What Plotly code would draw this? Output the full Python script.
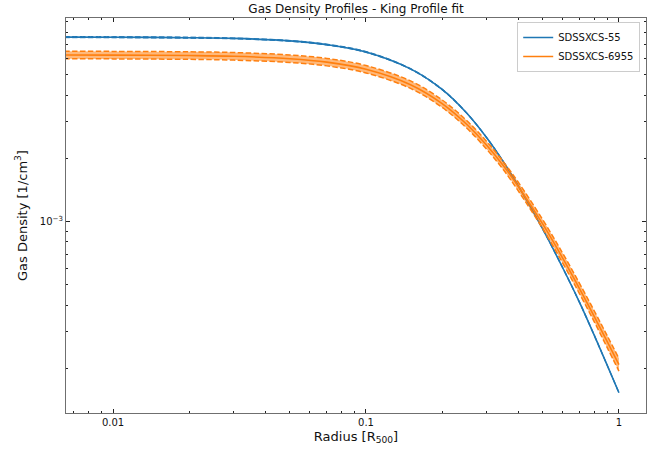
import plotly.graph_objects as go

# ---- data ----
radius = [0.0064, 0.01, 0.02, 0.03, 0.05, 0.07, 0.1, 0.15, 0.2, 0.25, 0.3,
          0.35, 0.4, 0.5, 0.6, 0.7, 0.8, 0.9, 1.0]

blue_name = "SDSSXCS-55"
blue_mid = [7.57e-3, 7.56e-3, 7.52e-3, 7.46e-3, 7.26e-3, 6.97e-3, 6.43e-3, 5.34e-3,
            4.26e-3, 3.29e-3, 2.51e-3, 1.92e-3, 1.48e-3, 9.20e-4, 6.01e-4, 4.10e-4,
            2.86e-4, 2.06e-4, 1.53e-4]
blue_hi = [7.62e-3, 7.61e-3, 7.57e-3, 7.50e-3, 7.30e-3, 7.01e-3, 6.47e-3, 5.37e-3,
           4.29e-3, 3.31e-3, 2.525e-3, 1.93e-3, 1.49e-3, 9.26e-4, 6.05e-4, 4.13e-4,
           2.88e-4, 2.07e-4, 1.54e-4]
blue_lo = [7.52e-3, 7.51e-3, 7.47e-3, 7.42e-3, 7.22e-3, 6.93e-3, 6.39e-3, 5.31e-3,
           4.23e-3, 3.27e-3, 2.495e-3, 1.91e-3, 1.47e-3, 9.14e-4, 5.97e-4, 4.07e-4,
           2.84e-4, 2.05e-4, 1.52e-4]

orange_name = "SDSSXCS-6955"
orange_mid = [6.22e-3, 6.21e-3, 6.18e-3, 6.13e-3, 5.97e-3, 5.75e-3, 5.32e-3, 4.49e-3,
              3.65e-3, 2.91e-3, 2.31e-3, 1.84e-3, 1.47e-3, 9.72e-4, 6.68e-4, 4.77e-4,
              3.52e-4, 2.67e-4, 2.08e-4]
orange_hi = [6.48e-3, 6.47e-3, 6.44e-3, 6.39e-3, 6.22e-3, 5.99e-3, 5.54e-3, 4.68e-3,
             3.80e-3, 3.03e-3, 2.41e-3, 1.92e-3, 1.54e-3, 1.02e-3, 7.05e-4, 5.05e-4,
             3.74e-4, 2.85e-4, 2.23e-4]
orange_lo = [5.97e-3, 5.96e-3, 5.93e-3, 5.88e-3, 5.73e-3, 5.52e-3, 5.11e-3, 4.31e-3,
             3.50e-3, 2.79e-3, 2.21e-3, 1.76e-3, 1.40e-3, 9.25e-4, 6.33e-4, 4.51e-4,
             3.32e-4, 2.50e-4, 1.94e-4]

x_major = [0.01, 0.1, 1]
x_major_text = ["0.01", "0.1", "1"]
x_minor = [0.007, 0.008, 0.009, 0.02, 0.03, 0.04, 0.05, 0.06, 0.07, 0.08, 0.09,
           0.2, 0.3, 0.4, 0.5, 0.6, 0.7, 0.8, 0.9]
y_major = [1e-3]
y_major_text = ["10<sup>−3</sup>"]
y_minor = [2e-4, 3e-4, 4e-4, 5e-4, 6e-4, 7e-4, 8e-4, 9e-4,
           2e-3, 3e-3, 4e-3, 5e-3, 6e-3, 7e-3, 8e-3, 9e-3]

BLUE = "#1f77b4"
ORANGE = "#ff7f0e"

fig = go.Figure()


def add_series(mid, lo, hi, color, fill, dash_w, name, group):
    fig.add_trace(go.Scatter(x=radius, y=lo, mode="lines", line_shape="spline",
                             line=dict(color=color, width=dash_w, dash="5.5px,2.4px"),
                             showlegend=False, hoverinfo="skip", legendgroup=group))
    fig.add_trace(go.Scatter(x=radius, y=hi, mode="lines", line_shape="spline",
                             line=dict(color=color, width=dash_w, dash="5.5px,2.4px"),
                             fill="tonexty", fillcolor=fill,
                             showlegend=False, hoverinfo="skip", legendgroup=group))
    fig.add_trace(go.Scatter(x=radius, y=mid, mode="lines", line_shape="spline",
                             line=dict(color=color, width=1.6), name=name,
                             legendgroup=group))


add_series(blue_mid, blue_lo, blue_hi, BLUE, "rgba(31,119,180,0.35)", 1.0, blue_name, "a")
add_series(orange_mid, orange_lo, orange_hi, ORANGE, "rgba(255,127,14,0.55)", 1.5,
           orange_name, "b")

axis_common = dict(
    showline=True, linecolor="#6f6f6f", linewidth=1.2, mirror="ticks",
    ticks="inside", ticklen=3.5, tickwidth=1, tickcolor="#222",
    showgrid=False, zeroline=False, automargin=False,
    tickfont=dict(family="DejaVu Sans", size=10, color="#111"),
)

fig.update_xaxes(
    type="log", range=[-2.186, 0.107],
    tickmode="array", tickvals=x_major, ticktext=x_major_text,
    minor=dict(tickmode="array", tickvals=x_minor, ticks="inside",
               ticklen=2, tickwidth=0.8, tickcolor="#222"),
    title=dict(text="Radius [R<sub>500</sub>]", standoff=4,
               font=dict(family="DejaVu Sans", size=13, color="#111")),
    **axis_common,
)
fig.update_yaxes(
    type="log", range=[-3.912, -2.030],
    tickmode="array", tickvals=y_major, ticktext=y_major_text,
    minor=dict(tickmode="array", tickvals=y_minor, ticks="inside",
               ticklen=2, tickwidth=0.8, tickcolor="#222"),
    title=dict(text="Gas Density [1/cm<sup>3</sup>]", standoff=9,
               font=dict(family="DejaVu Sans", size=13, color="#111")),
    **axis_common,
)

fig.update_layout(
    width=667, height=451,
    margin=dict(l=66, r=21, t=18, b=38, autoexpand=False),
    paper_bgcolor="white", plot_bgcolor="white",
    title=dict(text="Gas Density Profiles - King Profile fit",
               x=(66 + 646) / 2 / 667, xanchor="center",
               y=1 - 9 / 451, yref="container", yanchor="middle",
               font=dict(family="DejaVu Sans", size=12, color="#111")),
    legend=dict(x=0.99, y=0.99, xanchor="right", yanchor="top",
                bgcolor="rgba(255,255,255,0.8)", bordercolor="#cccccc", borderwidth=1,
                font=dict(family="DejaVu Sans", size=10, color="#111"),
                traceorder="normal", tracegroupgap=0, itemwidth=30),
    showlegend=True,
)

fig.write_html(
    "out.html",
    config={"displayModeBar": False},
    post_script="document.body.style.margin='0';document.body.style.padding='0';"
                "document.body.style.overflow='hidden';",
)
